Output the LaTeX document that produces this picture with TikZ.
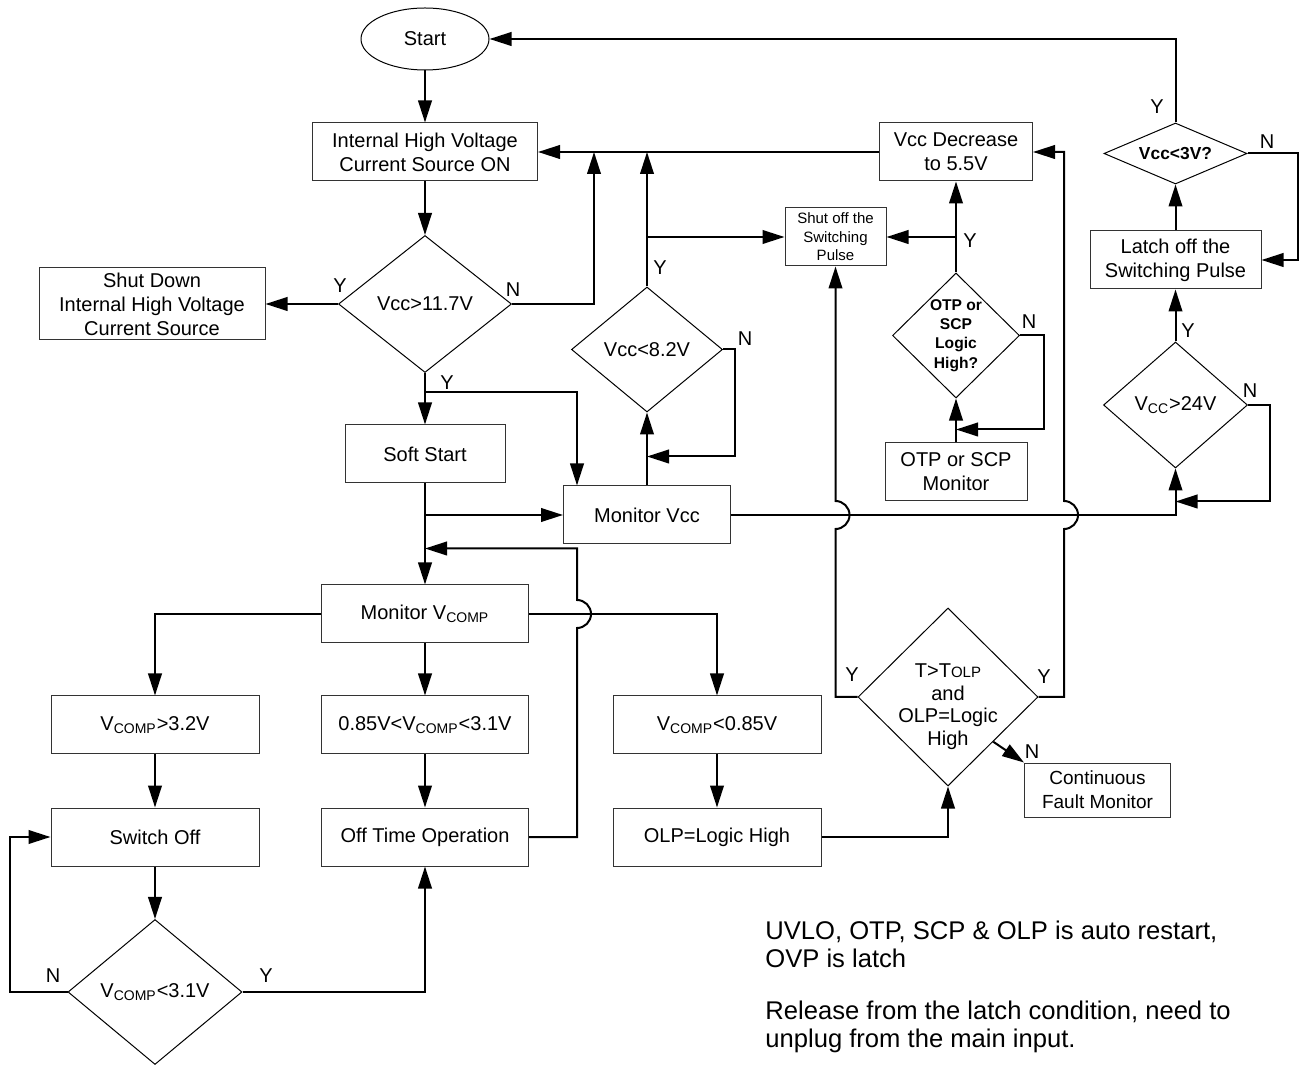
\documentclass[tikz,border=0pt]{standalone}
\usepackage{fontspec}
\setmainfont{Liberation Sans}
\usetikzlibrary{shapes.geometric,arrows.meta}

\tikzset{
	box/.style={draw=black!80, line width=0.5pt, inner sep=0pt, align=center, minimum height=29pt, font=\fontsize{10}{12}\selectfont},
	dia/.style={diamond, draw=black, line width=0.5pt, inner sep=0pt, align=center, font=\fontsize{10}{12}\selectfont},
	arr/.style={line width=1pt, -{Triangle[length=11pt, width=6.8pt]}},
	yn/.style={inner sep=0pt, font=\fontsize{10}{12}\selectfont},
}

\begin{document}
\begin{tikzpicture}[x=0.5pt, y=-0.5pt]
		\useasboundingbox (0,0) rectangle (1307,1074);
		
		\node[ellipse, draw=black, line width=0.5pt, minimum width=64pt, minimum height=31pt, font=\fontsize{10}{12}\selectfont] (start) at (425,39) {Start};
		\node[box, minimum width=112.5pt] (hvon) at (425,152) {Internal High Voltage\\Current Source ON};
		\node[dia, minimum width=86.5pt, minimum height=68.5pt] (vcc117) at (425,304) {Vcc>11.7V};
		\node[box, minimum width=113pt, minimum height=36pt] (shutdown) at (152,304) {Shut Down\\Internal High Voltage\\Current Source};
		\node[box, minimum width=80pt] (softstart) at (425,454) {Soft Start};
		\node[box, minimum width=83.5pt] (monvcc) at (647,515) {Monitor Vcc};
		\node[dia, minimum width=75.5pt, minimum height=62.5pt] (vcc82) at (647,349.5) {Vcc<8.2V};
		\node[box, minimum width=50.5pt, font=\fontsize{7.5}{9.2}\selectfont] (shutoff) at (835.5,237) {Shut off the\\Switching\\Pulse};
		\node[box, minimum width=76.5pt] (vccdec) at (956,152) {Vcc Decrease\\to 5.5V};
		\node[dia, minimum width=63.5pt, minimum height=62.5pt, font=\bfseries\fontsize{7.8}{9.6}\selectfont] (otpq) at (956,335.5) {OTP or\\SCP\\Logic\\High?};
		\node[box, minimum width=71pt] (otpmon) at (956,472) {OTP or SCP\\Monitor};
		\node[dia, aspect=2.3, minimum width=71.5pt, minimum height=30.5pt, font=\bfseries\fontsize{8.7}{10}\selectfont] (vcc3) at (1175.5,153.5) {Vcc<3V?};
		\node[box, minimum width=85.5pt] (latch) at (1175.5,260) {Latch off the\\Switching Pulse};
		\node[dia, minimum width=72pt, minimum height=63pt] (vcc24) at (1175.5,405) {V\textsubscript{CC}>24V};
		
		\node[box, minimum width=103.5pt] (monvcomp) at (425,614) {Monitor V\textsubscript{COMP}};
		\node[box, minimum width=104pt] (vcomphi) at (155,725) {V\textsubscript{COMP}>3.2V};
		\node[box, minimum width=103.5pt] (vcompmid) at (425,725) {0.85V<V\textsubscript{COMP}<3.1V};
		\node[box, minimum width=104pt] (vcomplo) at (717,725) {V\textsubscript{COMP}<0.85V};
		\node[box, minimum width=104pt] (switchoff) at (155,837) {Switch Off};
		\node[box, minimum width=103.5pt] (offtime) at (425,837) {Off Time Operation};
		\node[box, minimum width=104pt] (olphigh) at (717,837) {OLP=Logic High};
		\node[dia, minimum width=87pt, minimum height=72.5pt] (vcomp31) at (155,992) {V\textsubscript{COMP}<3.1V};
		\node[dia, inner sep=-5pt, minimum width=90pt, minimum height=89pt, font=\fontsize{10}{11.4}\selectfont] (tolp) at (948,697) {\rule{0pt}{16.5pt}T>T{\fontsize{7.5}{9}\selectfont OLP}\\and\\OLP=Logic\\High};
		\node[box, minimum width=73pt, minimum height=27pt, font=\fontsize{9.5}{12}\selectfont] (cfm) at (1097.5,790) {Continuous\\Fault Monitor};
		
		\node[anchor=north west, inner sep=0pt, align=left, font=\fontsize{12.8}{14}\selectfont] (notes) at (765,921) {UVLO, OTP, SCP \& OLP is auto restart,\\OVP is latch\\[12pt]Release from the latch condition, need to\\unplug from the main input.};
		
		\coordinate (hopa) at (shutoff.south |- monvcc.east);
		\coordinate (hopb) at (1064,515);
		\coordinate (hopc) at ([xshift=24pt]monvcomp.east);
		
		\path[arr](start) edge (hvon);
		\path[arr](hvon) edge (vcc117);
		\path[arr](vcc117.west) edge (shutdown.east);
		\path[arr](vcc117.south) edge (softstart.north);
		\draw[arr] (vcc117.east) -| ([xshift=28pt]hvon.east);
		\draw[arr] ([yshift=-9.5pt]vcc117.south) -| ([xshift=-35pt]monvcc.north);
		\draw[arr] (vccdec.west) -- (hvon.east);
		\draw[arr] (vcc82.north) -- (vcc82.north |- hvon.east);
		\draw[arr] (vcc82.north |- shutoff.west) -- (shutoff.west);
		\draw[arr] (monvcc.north) -- (vcc82.south);
		\draw[arr] (vcc82.east) -- ++(12,0) |- ([yshift=14.5pt]monvcc.north);
		\path[arr](softstart) edge (monvcomp);
		\draw[arr] (softstart.south |- monvcc.west) -- (monvcc.west);
		\draw[arr] (offtime.east) -| ([yshift=-7pt]hopc) arc[start angle=90, end angle=-90, radius=14] |- ([yshift=-32.5pt]softstart.south);
		
		\draw[arr] (monvcomp.west) -| (vcomphi.north);
		\path[arr](monvcomp) edge (vcompmid);
		\draw[arr] (monvcomp.east) -| (vcomplo.north);
		\path[arr](vcomphi) edge (switchoff);
		\path[arr](vcompmid) edge (offtime);
		\path[arr](vcomplo) edge (olphigh);
		\path[arr](switchoff) edge (vcomp31);
		\draw[arr] (vcomp31.west) -- ++(-58,0) |- (switchoff.west);
		\draw[arr] (vcomp31.east) -| (offtime.south);
		\draw[arr] (olphigh.east) -| (tolp.south);
		
		\draw[arr] (tolp.west) -| ([yshift=-7pt]hopa) arc[start angle=90, end angle=-90, radius=14] -- (shutoff.south);
		\draw[arr] (tolp.east) -| ([yshift=-7pt]hopb) arc[start angle=90, end angle=-90, radius=14] |- (vccdec.east);
		\draw[arr] (tolp.south east) -- (cfm.north west);
		\draw[arr] (monvcc.east) -| (vcc24.south);
		\draw[arr] (vcc24.east) -- ++(22,0) |- ([yshift=-16.5pt]vcc24.south);
		\path[arr](vcc24) edge (latch);
		\path[arr](latch) edge (vcc3);
		\draw[arr] (vcc3.east) -- ++(50,0) |- (latch.east);
		\draw[arr] (vcc3.north) |- (start.east);
		\path[arr](otpq) edge (vccdec);
		\draw[arr] (otpq.north |- shutoff.east) -- (shutoff.east);
		\draw[arr] (otpq.east) -- ++(24,0) |- ([yshift=6.5pt]otpmon.north);
		\path[arr](otpmon) edge (otpq);
		
		\node[yn] (y1) at (340,286) {Y};
		\node[yn] (n1) at (513,290) {N};
		\node[yn] (y2) at (447,383) {Y};
		\node[yn] (y3) at (660,268) {Y};
		\node[yn] (n3) at (745,339) {N};
		\node[yn] (y4) at (970,241) {Y};
		\node[yn] (n4) at (1029,322) {N};
		\node[yn] (y5) at (1157,107) {Y};
		\node[yn] (n5) at (1267,142) {N};
		\node[yn] (y6) at (1188,331) {Y};
		\node[yn] (n6) at (1250,391) {N};
		\node[yn] (y7) at (852,675) {Y};
		\node[yn] (y8) at (1044,677) {Y};
		\node[yn] (n8) at (1032,752) {N};
		\node[yn] (n9) at (53,976) {N};
		\node[yn] (y9) at (266,976) {Y};
		
	\end{tikzpicture}
\end{document}
